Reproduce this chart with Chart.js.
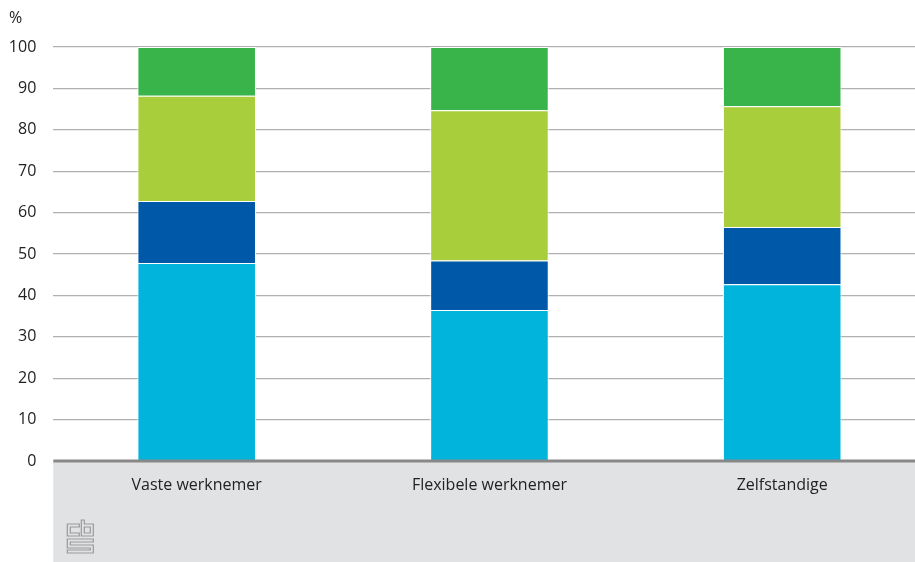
<!DOCTYPE html>
<html>
<head>
<meta charset="utf-8">
<script src="https://cdn.jsdelivr.net/npm/chart.js@4.4.1/dist/chart.umd.min.js"></script>
<style>
  html, body { margin: 0; padding: 0; background: #fff; overflow: hidden; }
  #wrap { width: 915px; height: 562px; position: relative; }
</style>
</head>
<body>
<div id="wrap"><canvas id="c"></canvas></div>
<script>
const categories = ['Vaste werknemer', 'Flexibele werknemer', 'Zelfstandige'];
const seriesCyan = [47.8, 36.5, 42.7];
const seriesDarkBlue = [15.0, 11.9, 13.8];
const seriesLightGreen = [25.4, 36.3, 29.2];
const seriesGreen = [11.8, 15.3, 14.3];
const yTicks = [0, 10, 20, 30, 40, 50, 60, 70, 80, 90, 100];
const yUnit = '%';

const FONT = '"Open Sans", "Noto Sans", sans-serif';
const TEXT = '#222222';

function pts(arr) { return arr.map((v, i) => ({ x: i, y: v })); }

const bgPlugin = {
  id: 'bg',
  beforeDraw(chart) {
    const { ctx, chartArea, width, height } = chart;
    ctx.save();
    ctx.fillStyle = '#e1e2e4';
    ctx.fillRect(chartArea.left, chartArea.bottom, width - chartArea.left, height - chartArea.bottom);
    ctx.restore();
  },
  afterDatasetsDraw(chart) {
    const { ctx, chartArea, scales } = chart;
    const y0 = scales.y.getPixelForValue(0);
    ctx.save();
    ctx.strokeStyle = '#888888';
    ctx.lineWidth = 3;
    ctx.beginPath();
    ctx.moveTo(chartArea.left, y0);
    ctx.lineTo(chart.width, y0);
    ctx.stroke();
    ctx.restore();
  },
  afterDraw(chart) {
    const { ctx } = chart;
    ctx.save();
    ctx.fillStyle = TEXT;
    ctx.font = '16px ' + FONT;
    ctx.textAlign = 'left';
    ctx.textBaseline = 'middle';
    ctx.fillText(yUnit, 9, 18.5);
    // cbs logo (outline)
    ctx.strokeStyle = '#9a9a9a';
    ctx.lineWidth = 1.2;
    const lx = chart.chartArea.left + 14, ly = chart.chartArea.bottom + 59;
    ctx.translate(lx, ly);
    ctx.beginPath();
    // c
    ctx.moveTo(12, 4); ctx.lineTo(0, 4); ctx.lineTo(0, 16); ctx.lineTo(12, 16);
    ctx.lineTo(12, 13); ctx.lineTo(3, 13); ctx.lineTo(3, 7); ctx.lineTo(12, 7); ctx.closePath();
    // b
    ctx.moveTo(14, 0); ctx.lineTo(17, 0); ctx.lineTo(17, 4); ctx.lineTo(26, 4);
    ctx.lineTo(26, 16); ctx.lineTo(14, 16); ctx.closePath();
    ctx.rect(17, 7, 6, 6);
    // S
    ctx.moveTo(0, 19); ctx.lineTo(26, 19); ctx.lineTo(26, 22); ctx.lineTo(3, 22);
    ctx.lineTo(3, 25); ctx.lineTo(26, 25); ctx.lineTo(26, 33); ctx.lineTo(0, 33);
    ctx.lineTo(0, 30); ctx.lineTo(23, 30); ctx.lineTo(23, 28); ctx.lineTo(0, 28); ctx.closePath();
    ctx.stroke();
    ctx.restore();
  }
};

const border = { top: 1, left: 1, right: 1, bottom: 0 };
function ds(label, data, color) {
  return {
    label, data: pts(data), backgroundColor: color,
    borderColor: '#ffffff', borderWidth: border, borderSkipped: false,
    barPercentage: 0.405, categoryPercentage: 1.0
  };
}

new Chart(document.getElementById('c'), {
  type: 'bar',
  data: {
    datasets: [
      ds('Categorie 1', seriesCyan, '#00b4dc'),
      ds('Categorie 2', seriesDarkBlue, '#0058a8'),
      ds('Categorie 3', seriesLightGreen, '#a9ce3b'),
      ds('Categorie 4', seriesGreen, '#38b44a')
    ]
  },
  plugins: [bgPlugin],
  options: {
    responsive: true,
    maintainAspectRatio: false,
    animation: false,
    layout: { padding: { top: 47, right: 0, bottom: 0, left: 0 } },
    plugins: { legend: { display: false }, tooltip: { enabled: false }, title: { display: false } },
    scales: {
      x: {
        type: 'linear',
        stacked: true,
        min: -0.4898,
        max: 2.4536,
        offset: false,
        grid: { display: false, drawTicks: false },
        border: { display: false },
        afterBuildTicks(scale) { scale.ticks = categories.map((c, i) => ({ value: i })); },
        afterFit(scale) { scale.height = 101; },
        ticks: {
          autoSkip: false,
          maxRotation: 0,
          padding: 15,
          color: TEXT,
          font: { family: FONT, size: 16 },
          callback: (v) => categories[v]
        }
      },
      y: {
        stacked: true,
        min: 0,
        max: 100,
        afterBuildTicks(scale) { scale.ticks = yTicks.map(v => ({ value: v })); },
        afterFit(scale) { scale.width = 53.3; },
        grid: {
          drawTicks: false,
          color: (c) => c.tick && c.tick.value === 0 ? 'rgba(0,0,0,0)' : '#b0b0b0',
          lineWidth: 1.3
        },
        border: { display: false },
        ticks: {
          padding: 17,
          color: TEXT,
          font: { family: FONT, size: 16 }
        }
      }
    }
  }
});
</script>
</body>
</html>
